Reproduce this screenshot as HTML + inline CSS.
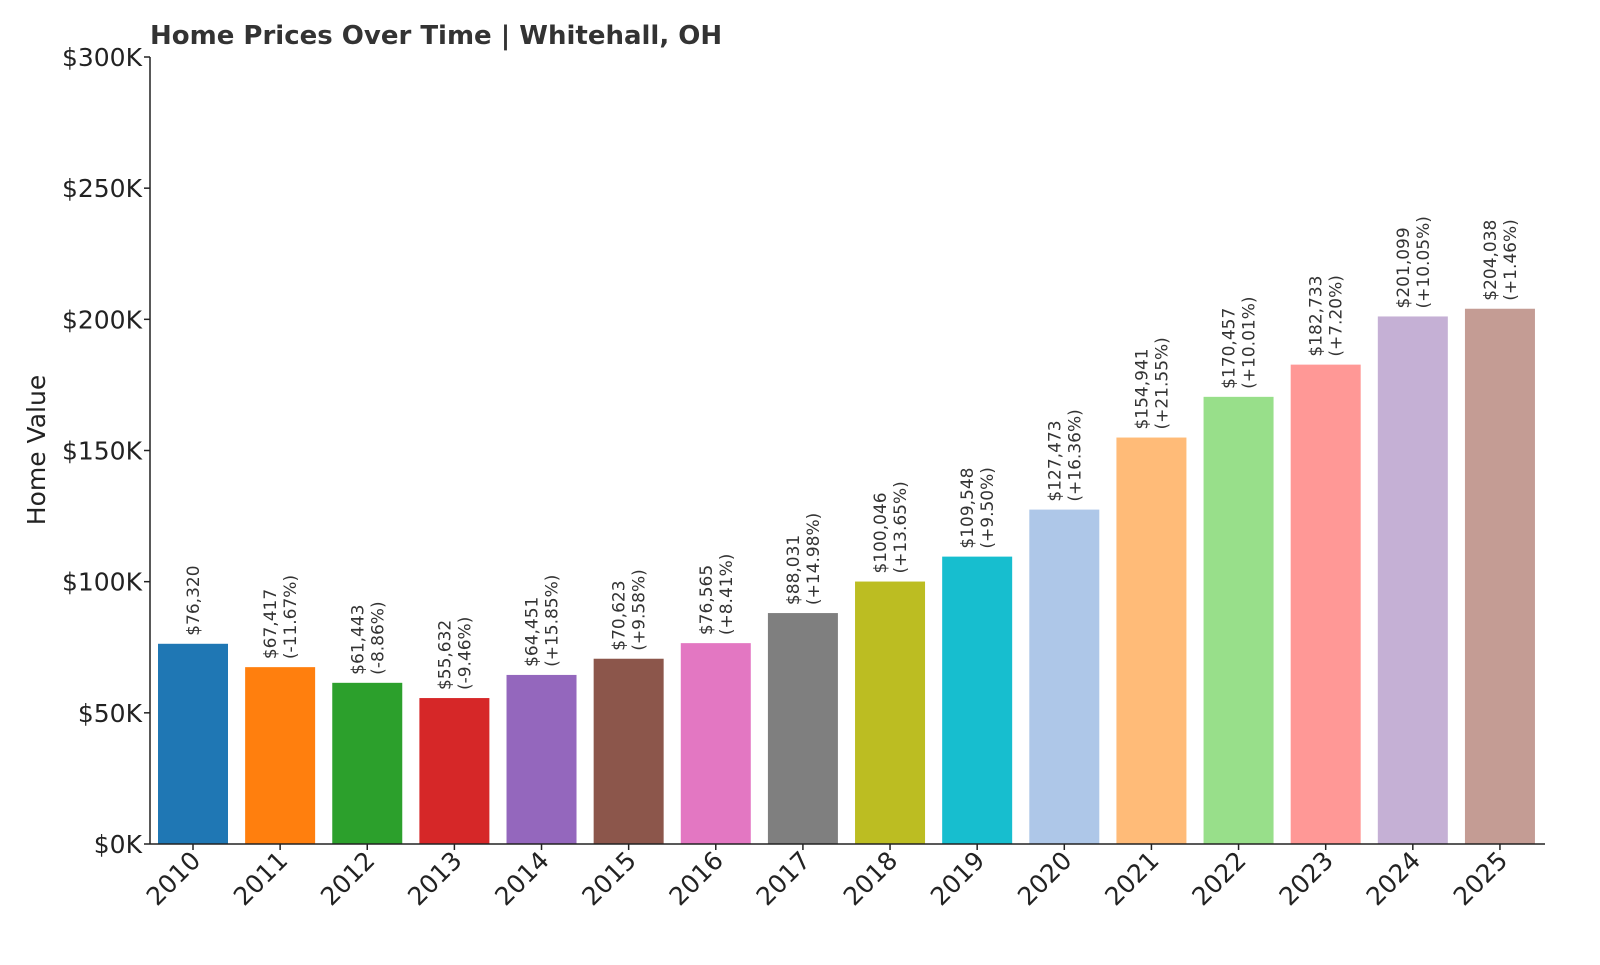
<!DOCTYPE html>
<html><head><meta charset="utf-8"><style>
body{margin:0;background:#fff;}
svg{font-family:"DejaVu Sans","Liberation Sans",sans-serif;}
</style></head><body>
<svg id="chart" width="1600" height="960">
<text x="150" y="44" font-size="26" font-weight="bold" fill="#333">Home Prices Over Time | Whitehall, OH</text>
<text transform="translate(45,450) rotate(-90)" text-anchor="middle" font-size="25" fill="#222">Home Value</text>
<g id="plot"></g>
</svg>
<script>
const years=["2010","2011","2012","2013","2014","2015","2016","2017","2018","2019","2020","2021","2022","2023","2024","2025"];
const values=[76320,67417,61443,55632,64451,70623,76565,88031,100046,109548,127473,154941,170457,182733,201099,204038];
const changes=["","-11.67%","-8.86%","-9.46%","+15.85%","+9.58%","+8.41%","+14.98%","+13.65%","+9.50%","+16.36%","+21.55%","+10.01%","+7.20%","+10.05%","+1.46%"];
const yTicks=[0,50000,100000,150000,200000,250000,300000];
const colors=["#1f77b4","#ff7f0e","#2ca02c","#d62728","#9467bd","#8c564b","#e377c2","#7f7f7f","#bcbd22","#17becf","#aec7e8","#ffbb78","#98df8a","#ff9896","#c5b0d5","#c49c94"];
const NS="http://www.w3.org/2000/svg";
const g=document.getElementById('plot');
const y0=844,y1=57,x0=150,x1=1545;
const y=v=>y0-(v/300000)*(y0-y1);
const step=87.13,first=193,bw=70;
const x=i=>first+i*step;
function mk(t,a,p){const e=document.createElementNS(NS,t);for(const k in a)e.setAttribute(k,a[k]);(p||g).appendChild(e);return e;}
yTicks.forEach(v=>{
 const l=mk('line',{x1:x0-6,x2:x0,y1:y(v),y2:y(v),stroke:'#222','stroke-width':1.5});
 
 
 const t=mk('text',{x:x0-8,y:y(v)+9,'text-anchor':'end','font-size':25,fill:'#222'});
 t.textContent='$'+(v/1000)+'K';
 
 
});
values.forEach((v,i)=>{
 const cx=x(i);
 const r=mk('rect',{x:cx-bw/2,y:y(v),width:bw,height:y0-y(v),fill:colors[i]});
 
 
 const tk=mk('line',{x1:cx,x2:cx,y1:y0,y2:y0+6,stroke:'#222','stroke-width':1.5});
 
 
 const xl=mk('text',{transform:`translate(${cx+9},${y0+18}) rotate(-45)`,'text-anchor':'end','font-size':25,fill:'#222'});
 xl.textContent=years[i];
 
 
 const lab=mk('text',{transform:`translate(${cx},${y(v)-8}) rotate(-90)`,'font-size':17,fill:'#333'});
 
 
 const s1=document.createElementNS(NS,'tspan');
 s1.setAttribute('x',0);
 s1.setAttribute('y',changes[i]?-4:6);
 s1.textContent='$'+v.toLocaleString('en-US');
 lab.appendChild(s1);
 if(changes[i]){
  const s2=document.createElementNS(NS,'tspan');
  s2.setAttribute('x',0);s2.setAttribute('y',16);
  s2.textContent='('+changes[i]+')';
  lab.appendChild(s2);
 }
});
const ax=mk('line',{x1:x0,x2:x0,y1:y1,y2:y0,stroke:'#222','stroke-width':1.5});


const bx=mk('line',{x1:x0,x2:x1,y1:y0,y2:y0,stroke:'#222','stroke-width':1.5});


</script>
</body></html>
